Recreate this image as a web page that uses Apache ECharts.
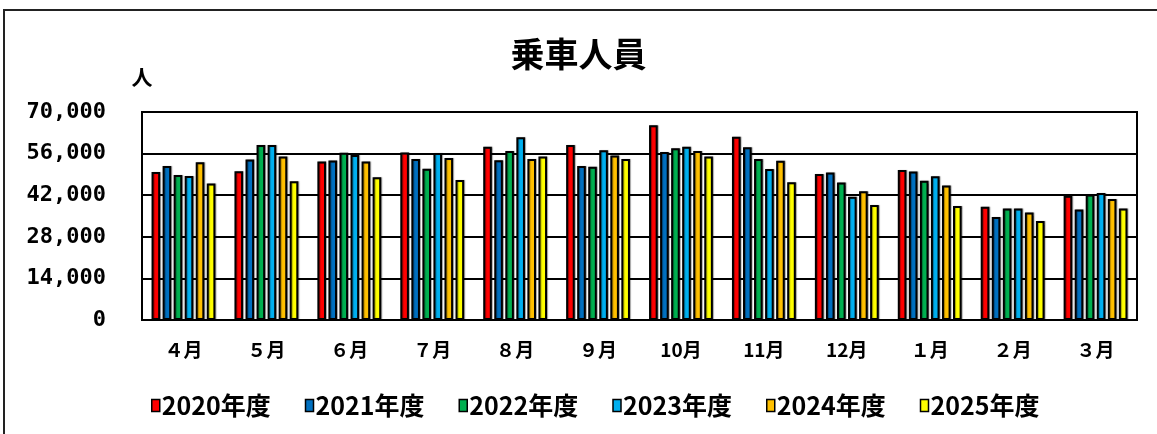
<!DOCTYPE html>
<html>
<head>
<meta charset="utf-8">
<script src="https://cdn.jsdelivr.net/npm/echarts@6/dist/echarts.min.js"></script>
<style>
html,body{margin:0;padding:0;background:#fff;}
#c{width:1157px;height:434px;}
</style>
</head>
<body>
<div id="c"></div>
<script>
var categories = ['４月','５月','６月','７月','８月','９月','10月','11月','12月','１月','２月','３月'];
var seriesNames = ['2020年度','2021年度','2022年度','2023年度','2024年度','2025年度'];
var colors = ['#FF0000','#0070C0','#00B050','#00B0F0','#FFC000','#FFFF00'];
var y2020 = [49800,50100,53300,56400,58300,58900,65500,61700,49100,50500,38100,41800];
var y2021 = [51800,54000,53700,54200,53800,51800,56500,58100,49600,50000,34700,37200];
var y2022 = [48800,58900,56300,50900,56900,51600,57800,54200,46300,46900,37500,42200];
var y2023 = [48500,58900,55500,56200,61500,57100,58300,50800,41500,48400,37500,42700];
var y2024 = [53100,55000,53300,54500,54200,55400,56900,53600,43300,45300,36200,40700];
var y2025 = [45900,46700,48000,47100,55000,54200,55000,46400,38700,38400,33300,37500];
var yTicks = {min:0, max:70000, interval:14000};

var allData = [y2020,y2021,y2022,y2023,y2024,y2025];
var chart = echarts.init(document.getElementById('c'));
var series = allData.map(function(d,i){
  return {
    name: seriesNames[i],
    type: 'bar',
    data: d,
    barGap: '28%',
    barCategoryGap: '23%',
    itemStyle: {color: colors[i], borderColor: '#000', borderWidth: 2,
      shadowColor: 'rgba(0,0,0,0.35)', shadowOffsetX: 1, shadowOffsetY: 0, shadowBlur: 1}
  };
});
chart.setOption({
  animation: false,
  backgroundColor: '#fff',
  graphic: [{
    type: 'rect', shape: {x: 4, y: 10, width: 1200, height: 500},
    style: {fill: 'none', stroke: '#222', lineWidth: 2}, z: -1
  }],
  title: {
    text: '乗車人員', left: 'center', top: 32,
    textStyle: {fontFamily: 'Noto Sans CJK JP', fontWeight: 'bold', fontSize: 34, color: '#000'}
  },
  legend: {
    data: seriesNames, left: 146, top: 388, itemWidth: 8, itemHeight: 12, itemGap: 34,
    icon: 'rect',
    itemStyle: {borderColor: '#000', borderWidth: 1.5},
    textStyle: {fontFamily: 'Noto Sans CJK JP', fontWeight: 'bold', fontSize: 25, color: '#000', padding: [0,0,0,-3]}
  },
  grid: {left: 142, right: 20, top: 112, bottom: 114, show: true, borderColor: '#000', borderWidth: 2, backgroundColor: 'transparent'},
  xAxis: {
    type: 'category', data: categories,
    axisLine: {lineStyle: {color: '#000', width: 2}},
    axisTick: {show: false},
    axisLabel: {margin: 20, color: '#000', fontFamily: 'Noto Sans CJK JP', fontWeight: 'bold', fontSize: 19}
  },
  yAxis: {
    type: 'value', min: yTicks.min, max: yTicks.max, interval: yTicks.interval,
    name: '人', nameLocation: 'end', nameGap: 24,
    nameTextStyle: {fontFamily: 'Noto Sans CJK JP', fontWeight: 'bold', fontSize: 21, color: '#000', align: 'center'},
    axisLine: {show: true, lineStyle: {color: '#000', width: 2}},
    axisTick: {show: false},
    splitLine: {lineStyle: {color: '#000', width: 2}},
    axisLabel: {margin: 36, color: '#000', fontFamily: 'DejaVu Sans Mono', fontWeight: 'bold', fontSize: 22,
      formatter: function(v){ return v.toLocaleString('en-US'); }}
  },
  series: series
});
</script>
</body>
</html>
